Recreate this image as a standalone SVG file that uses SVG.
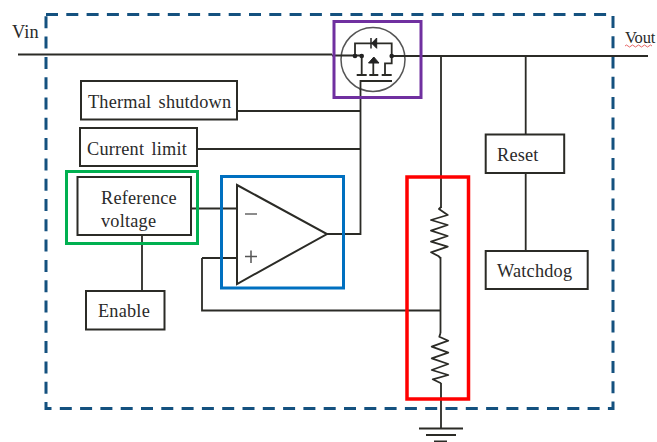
<svg xmlns="http://www.w3.org/2000/svg" width="657" height="442" viewBox="0 0 657 442">
<style>
.w{fill:none;stroke:#2b2b26;stroke-width:1.800}
.b{fill:#fff;stroke:#2b2b26;stroke-width:2}
.t{font-family:"Liberation Serif",serif;font-size:18.300px;fill:#2a2a2a;letter-spacing:.2px;word-spacing:2.500px}
</style>
<rect width="657" height="442" fill="#fff"/>
<rect id="boundary" x="46" y="14.500" width="567" height="394" fill="none" stroke="#14517f" stroke-width="3" stroke-dasharray="12 8.300"/>
<g id="connectors">
<path class="w" d="M18 54.500H332M422 56H648"/>
<path class="w" d="M237 111H360.500M197 149H360.500M360.500 82V234H327M360.500 81H392"/>
<path class="w" d="M441 56V208M440.500 257V333M441 383V428M202 258H237M202 258V310.500H441M191 208.500H237M142 235V291M525.700 56V135M525.700 173V251"/>
<path class="w" d="M419 428.500H463M426 435H456M434 441.500H447"/>
<path class="w" stroke-linejoin="round" d="M441 207L439 209L447.700 215L431 220L447.700 225L431 230.700L447.700 236L431 241.700L447.700 246.700L431 252.300L438.300 256L440.500 258"/>
<path class="w" stroke-linejoin="round" d="M440.500 333L439.300 336.700L448.300 340.700L431.700 346.700L448.300 352.700L431.700 358.300L448.300 364L431.700 370L448.300 375L432.700 379.300L441 383.300"/>
</g>
<g id="thermal"><rect class="b" x="81" y="81" width="156" height="38.500"/><text class="t" x="88" y="108">Thermal shutdown</text></g>
<g id="current"><rect class="b" x="80" y="128" width="117" height="38"/><text class="t" x="87" y="155">Current limit</text></g>
<g id="reference"><rect class="b" x="77.500" y="177" width="113.500" height="58"/><text class="t" x="101" y="204">Reference</text><text class="t" x="101" y="227">voltage</text></g>
<g id="reference-highlight"><rect x="66.500" y="171.500" width="131" height="72" fill="none" stroke="#00b050" stroke-width="3"/></g>
<g id="enable"><rect class="b" x="86" y="291" width="78.500" height="38.500"/><text class="t" x="98" y="317">Enable</text></g>
<g id="opamp"><path d="M237 185L327 234L237 284Z" fill="#fff" stroke="#2b2b26" stroke-width="2"/><path d="M245 214H257" stroke="#666" stroke-width="1.500"/><path d="M245 256.500H257M251 250.500V263" stroke="#555" stroke-width="1.500"/></g>
<g id="opamp-highlight"><rect x="221.500" y="176.500" width="122" height="111.500" fill="none" stroke="#0070c0" stroke-width="3"/></g>
<g id="mosfet">
<circle cx="373" cy="59.500" r="32" fill="#fff" stroke="#555" stroke-width="1.500"/>
<path class="w" d="M332 55.500H361.700M391.700 56H422M355 56V43.300H391.700V63.300H385V75M361.700 56V75M373.300 60V75M356.700 75H366.700M369.300 75H378.300M381.700 75H391.700M360.500 90V81H392"/>
<path d="M376.700 38V48.300L371.700 43.200Z" fill="#222" stroke="#222"/><path d="M371 38V48.500" stroke="#222" stroke-width="1.500"/>
<path d="M373.800 57L379 63H368.500Z" fill="#222" stroke="#222"/>
<circle cx="355" cy="56" r="2.300" fill="#222"/><circle cx="361.700" cy="56" r="2.300" fill="#222"/><circle cx="391.700" cy="56" r="2.300" fill="#222"/>
</g>
<g id="mosfet-highlight"><rect x="334" y="21.500" width="87" height="76" fill="none" stroke="#7030a0" stroke-width="3"/></g>
<g id="divider-highlight"><rect x="407" y="177" width="61.500" height="222" fill="none" stroke="#f00" stroke-width="3.500"/></g>
<g id="reset"><rect class="b" x="485.700" y="134.500" width="78.500" height="38.500"/><text class="t" x="497" y="161">Reset</text></g>
<g id="watchdog"><rect class="b" x="485.700" y="251" width="102" height="38"/><text class="t" x="497" y="277">Watchdog</text></g>
<g id="labels"><text class="t" x="12" y="38">Vin</text><text class="t" x="625" y="43" style="letter-spacing:-.2px;font-size:16.500px">Vout</text><path d="M625 46q1.500-2 3 0t3 0t3 0t3 0t3 0t3 0t3 0t3 0t3 0" fill="none" stroke="#e04040" stroke-width=".8"/></g>
</svg>
